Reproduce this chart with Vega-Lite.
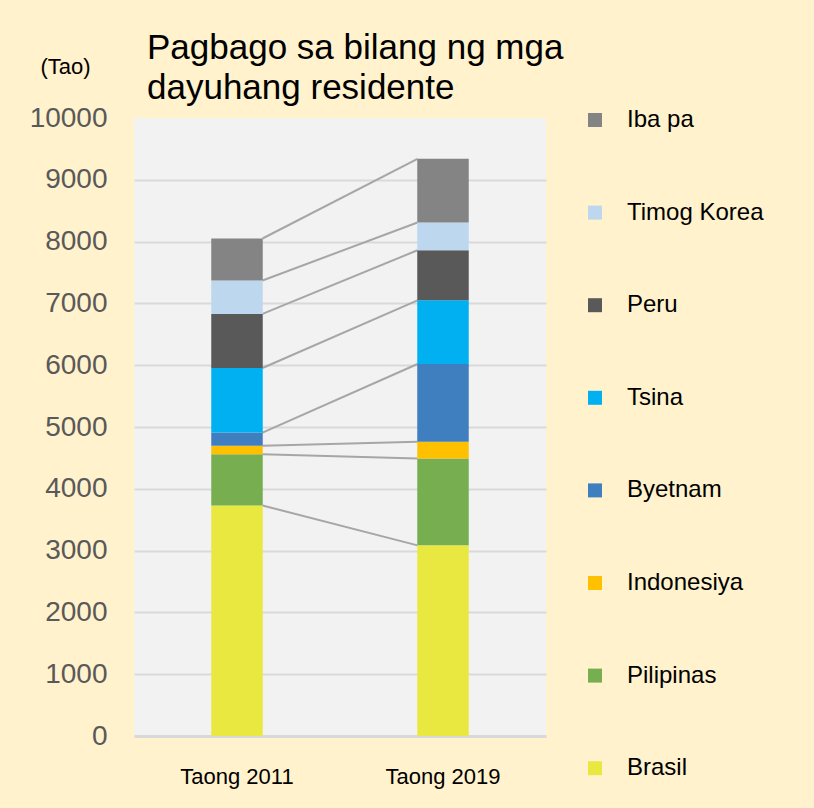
{
  "$schema": "https://vega.github.io/schema/vega-lite/v6.json",
  "width": 412,
  "height": 618,
  "autosize": "none",
  "padding": {"left": 134, "top": 118, "right": 268, "bottom": 72},
  "background": "#FFF2CC",
  "title": {
    "text": ["Pagbago sa bilang ng mga", "dayuhang residente"],
    "anchor": "start",
    "frame": "group",
    "dx": 13,
    "dy": 61,
    "offset": 10,
    "fontSize": 35,
    "lineHeight": 40,
    "fontWeight": "normal",
    "font": "Liberation Sans, Arial, sans-serif",
    "color": "#000000"
  },
  "config": {
    "view": {"fill": "#F2F2F2", "stroke": null},
    "font": "Liberation Sans, Arial, sans-serif",
    "axisX": {
      "labelFontSize": 22,
      "labelColor": "#000000",
      "labelPadding": 30,
      "labelAngle": 0,
      "ticks": false,
      "domainColor": "#D9D9D9",
      "domainWidth": 3,
      "title": null
    },
    "axisY": {
      "labelFontSize": 28,
      "labelColor": "#595959",
      "labelPadding": 27,
      "ticks": false,
      "domain": false,
      "gridWidth": 2
    }
  },
  "data": {
    "values": [
      {"year": "Taong 2011", "country": "Brasil", "value": 3730},
      {"year": "Taong 2011", "country": "Pilipinas", "value": 830},
      {"year": "Taong 2011", "country": "Indonesiya", "value": 135},
      {"year": "Taong 2011", "country": "Byetnam", "value": 215},
      {"year": "Taong 2011", "country": "Tsina", "value": 1045},
      {"year": "Taong 2011", "country": "Peru", "value": 875},
      {"year": "Taong 2011", "country": "Timog Korea", "value": 540},
      {"year": "Taong 2011", "country": "Iba pa", "value": 680},
      {"year": "Taong 2019", "country": "Brasil", "value": 3085},
      {"year": "Taong 2019", "country": "Pilipinas", "value": 1405},
      {"year": "Taong 2019", "country": "Indonesiya", "value": 270},
      {"year": "Taong 2019", "country": "Byetnam", "value": 1260},
      {"year": "Taong 2019", "country": "Tsina", "value": 1030},
      {"year": "Taong 2019", "country": "Peru", "value": 810},
      {"year": "Taong 2019", "country": "Timog Korea", "value": 450},
      {"year": "Taong 2019", "country": "Iba pa", "value": 1030}
    ]
  },
  "transform": [
    {"stack": "value", "groupby": ["year"], "as": ["v0", "v1"]}
  ],
  "layer": [
    {
      "transform": [
        {"pivot": "year", "value": "v1", "groupby": ["country"]}
      ],
      "mark": {"type": "rule", "color": "#A6A6A6", "strokeWidth": 2, "xOffset": 25.5, "x2Offset": -25.5},
      "encoding": {
        "x": {"datum": "Taong 2011", "type": "nominal"},
        "x2": {"datum": "Taong 2019"},
        "y": {"field": "Taong 2011", "type": "quantitative"},
        "y2": {"field": "Taong 2019"}
      }
    },
    {
      "mark": {"type": "bar", "width": {"band": 0.25}},
      "encoding": {
        "x": {
          "field": "year",
          "type": "nominal",
          "scale": {"domain": ["Taong 2011", "Taong 2019"], "paddingInner": 0, "paddingOuter": 0},
          "axis": {"title": null, "labelPadding": 30}
        },
        "y": {
          "field": "v0",
          "type": "quantitative",
          "scale": {"domain": [0, 10000], "nice": false},
          "axis": {
            "title": "(Tao)",
            "titleAngle": 0,
            "titleX": -69,
            "titleY": -52,
            "titleAlign": "center",
            "titleBaseline": "middle",
            "titleFontSize": 22,
            "titleFontWeight": "normal",
            "titleColor": "#000000",
            "values": [0, 1000, 2000, 3000, 4000, 5000, 6000, 7000, 8000, 9000, 10000],
            "format": "d",
            "gridColor": {"condition": {"test": "datum.value == 10000", "value": "transparent"}, "value": "#D9D9D9"}
          }
        },
        "y2": {"field": "v1"},
        "color": {
          "field": "country",
          "type": "nominal",
          "scale": {
            "domain": ["Iba pa", "Timog Korea", "Peru", "Tsina", "Byetnam", "Indonesiya", "Pilipinas", "Brasil"],
            "range": ["#848484", "#BDD7EE", "#595959", "#00B0F0", "#3F7FC0", "#FFC000", "#77AF50", "#E8E840"]
          },
          "legend": {
            "title": null,
            "orient": "none",
            "legendX": 449,
            "legendY": -10,
            "padding": 0,
            "symbolType": "square",
            "symbolSize": 196,
            "symbolStrokeWidth": 0,
            "labelFontSize": 24,
            "labelColor": "#000000",
            "labelOffset": 20,
            "rowPadding": 68.6,
            "labelLimit": 300
          }
        }
      }
    }
  ]
}
